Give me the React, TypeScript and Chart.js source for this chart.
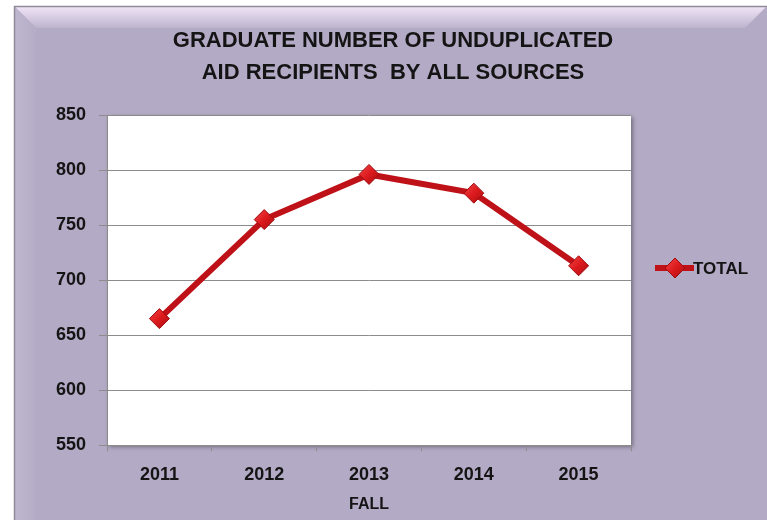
import React, { useEffect, useRef } from "react";
import { Chart, registerables } from "chart.js";

Chart.register(...registerables);

const categories = ["2011", "2012", "2013", "2014", "2015"];
const totalValues = [665, 755, 796, 779, 713];
const seriesName = "TOTAL";
const titleLines = ["GRADUATE NUMBER OF UNDUPLICATED", "AID RECIPIENTS  BY ALL SOURCES"];
const xTitle = "FALL";
const yMin = 550;
const yMax = 850;
const yStep = 50;

const FONT = "'Liberation Sans', Arial, sans-serif";
const LINE_COLOR = "#bf1218";
const MARK_COLOR = "#e01d20";
const TEXT_COLOR = "#141414";

function diamondFill(ctx: any, cx: number, cy: number, r: number) {
  const g = ctx.createLinearGradient(cx - r, cy - r, cx + r, cy + r);
  g.addColorStop(0, "#f2474a");
  g.addColorStop(0.5, "#dc1a1d");
  g.addColorStop(1, "#a80d10");
  return g;
}

function drawDiamond(ctx: any, cx: number, cy: number, r: number) {
  ctx.fillStyle = diamondFill(ctx, cx, cy, r);
  ctx.strokeStyle = "#a00b0e";
  ctx.lineWidth = 1;
  ctx.beginPath();
  ctx.moveTo(cx, cy - r);
  ctx.lineTo(cx + r, cy);
  ctx.lineTo(cx, cy + r);
  ctx.lineTo(cx - r, cy);
  ctx.closePath();
  ctx.fill();
  ctx.stroke();
}

const panelPlugin = {
  id: "panel",
  beforeDraw(chart: any) {
    const { ctx, width, height, chartArea } = chart;
    ctx.save();
    ctx.fillStyle = "#ffffff";
    ctx.fillRect(0, 0, width, height);
    const x0 = 14, y0 = 6, x1 = width, y1 = height;
    ctx.fillStyle = "#b3aac5";
    ctx.fillRect(x0, y0, x1 - x0, y1 - y0);
    const b = 22;
    let g = ctx.createLinearGradient(0, y0, 0, y0 + b);
    g.addColorStop(0, "#f1e6f8");
    g.addColorStop(1, "#bdb3cd");
    ctx.fillStyle = g;
    ctx.beginPath();
    ctx.moveTo(x0, y0);
    ctx.lineTo(x1, y0);
    ctx.lineTo(x1 - b, y0 + b);
    ctx.lineTo(x0 + b, y0 + b);
    ctx.closePath();
    ctx.fill();
    g = ctx.createLinearGradient(x0, 0, x0 + b, 0);
    g.addColorStop(0, "#bfb6cf");
    g.addColorStop(1, "#b5acc7");
    ctx.fillStyle = g;
    ctx.beginPath();
    ctx.moveTo(x0, y0);
    ctx.lineTo(x0 + b, y0 + b);
    ctx.lineTo(x0 + b, y1);
    ctx.lineTo(x0, y1);
    ctx.closePath();
    ctx.fill();
    ctx.strokeStyle = "#8f8a98";
    ctx.lineWidth = 1.5;
    ctx.beginPath();
    ctx.moveTo(x0 + 0.5, y1);
    ctx.lineTo(x0 + 0.5, y0 + 0.5);
    ctx.lineTo(x1, y0 + 0.5);
    ctx.stroke();
    ctx.shadowColor = "rgba(0,0,0,0.35)";
    ctx.shadowBlur = 4;
    ctx.shadowOffsetX = 2;
    ctx.shadowOffsetY = 2;
    ctx.fillStyle = "#ffffff";
    ctx.fillRect(chartArea.left, chartArea.top, chartArea.right - chartArea.left, chartArea.bottom - chartArea.top);
    ctx.restore();

    ctx.save();
    ctx.fillStyle = TEXT_COLOR;
    ctx.font = `bold 22px ${FONT}`;
    ctx.textAlign = "center";
    ctx.textBaseline = "middle";
    ctx.fillText(titleLines[0], 393, 41);
    ctx.fillText(titleLines[1], 393, 73);
    ctx.restore();
  },
  afterDraw(chart: any) {
    const { ctx } = chart;
    ctx.save();
    const ly = 268;
    ctx.strokeStyle = LINE_COLOR;
    ctx.lineWidth = 6;
    ctx.beginPath();
    ctx.moveTo(655, ly);
    ctx.lineTo(694, ly);
    ctx.stroke();
    drawDiamond(ctx, 675, ly, 10);
    ctx.fillStyle = TEXT_COLOR;
    ctx.font = `bold 17px ${FONT}`;
    ctx.textAlign = "left";
    ctx.textBaseline = "middle";
    ctx.fillText(seriesName, 693, ly + 1);
    ctx.restore();
  },
};

export default function App() {
  const ref = useRef<HTMLCanvasElement | null>(null);
  useEffect(() => {
    if (!ref.current) return;
    const chart = new Chart(ref.current, {
      type: "line",
      data: {
        labels: categories,
        datasets: [
          {
            label: seriesName,
            data: totalValues,
            borderColor: LINE_COLOR,
            borderWidth: 6,
            backgroundColor: (c: any) => {
              const el = c.element;
              if (!el || el.x === undefined) return MARK_COLOR;
              return diamondFill(c.chart.ctx, el.x, el.y, 10);
            },
            pointStyle: "rectRot",
            pointRadius: 10,
            pointBorderColor: "#a00b0e",
            pointBorderWidth: 1,
            tension: 0,
          },
        ],
      },
      options: {
        animation: false,
        responsive: false,
        layout: { padding: { top: 115, left: 43, right: 136, bottom: 6 } },
        plugins: {
          legend: { display: false },
          title: { display: false },
          tooltip: { enabled: false },
        },
        scales: {
          x: {
            offset: true,
            grid: {
              offset: true,
              drawOnChartArea: false,
              drawTicks: true,
              tickLength: 6,
              color: "#8c8c8c",
            },
            border: { color: "#8c8c8c", width: 1 },
            ticks: {
              color: TEXT_COLOR,
              font: { family: FONT, weight: "bold", size: 18 },
              padding: 13,
            },
            title: {
              display: true,
              text: xTitle,
              color: TEXT_COLOR,
              font: { family: FONT, weight: "bold", size: 16 },
              padding: { top: -4, bottom: 0 },
            },
          },
          y: {
            min: yMin,
            max: yMax,
            grid: {
              color: "#8c8c8c",
              lineWidth: 1,
              drawTicks: true,
              tickLength: 8,
            },
            border: { color: "#8c8c8c", width: 1 },
            ticks: {
              stepSize: yStep,
              color: TEXT_COLOR,
              font: { family: FONT, weight: "bold", size: 18 },
              padding: 13,
            },
          },
        },
      },
      plugins: [panelPlugin],
    });
    return () => chart.destroy();
  }, []);
  return (
    <div style={{ position: "fixed", left: 0, top: 0, width: 767, height: 520 }}>
      <canvas ref={ref} width={767} height={520} style={{ width: 767, height: 520 }} />
    </div>
  );
}
